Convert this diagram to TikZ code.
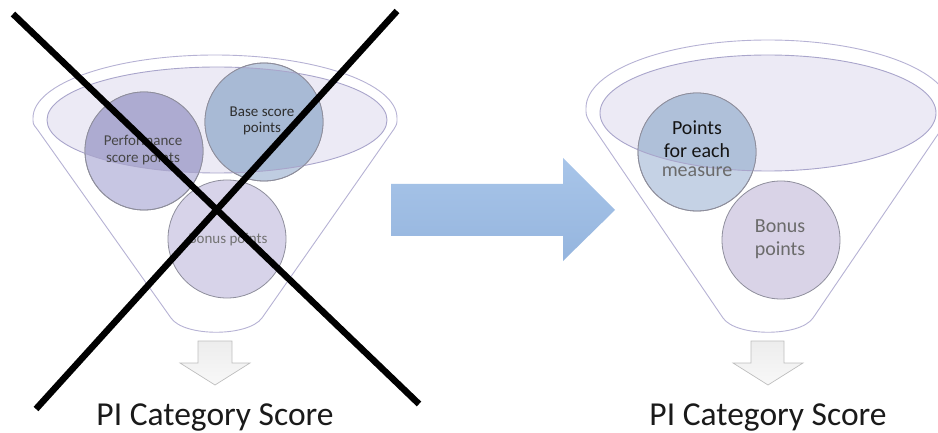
\documentclass[tikz,border=0pt]{standalone}
\usepackage{fontspec}
\setmainfont{Carlito}
\begin{document}
\begin{tikzpicture}[x=1pt,y=-1pt,
  funnel/.style={draw=funline,fill=white,line width=0.9pt},
  topell/.style={draw=ellline,line width=0.9pt},
  circ/.style={circle,minimum size=118pt,inner sep=0pt,draw=circline,line width=0.8pt},
  circtxt/.style={align=center,inner sep=0pt},
  smalltxt/.style={circtxt,font=\fontsize{15}{16.5}\selectfont},
  bigtxt/.style={circtxt,font=\fontsize{20}{22.5}\selectfont},
  title/.style={font=\fontsize{33.5}{38}\selectfont,text=titlecol,anchor=base,inner sep=0pt},
  downarrow/.style={draw=darrline,line width=0.7pt,top color=darrtop,bottom color=darrbot},
  cross/.style={draw=black,line width=6.5pt}
]
\definecolor{funline}{HTML}{B6B2D4}
\definecolor{ellline}{HTML}{A9A5CB}
\definecolor{ellfill}{HTML}{ECEAF5}
\definecolor{circline}{HTML}{8E8E9C}
\definecolor{perflo}{HTML}{C7C6E3}
\definecolor{perfhi}{HTML}{ADABD1}
\definecolor{baselo}{HTML}{BFCDE1}
\definecolor{basehi}{HTML}{A8BAD5}
\definecolor{bonuslo}{HTML}{D7D3E9}
\definecolor{ptslo}{HTML}{C5D2E5}
\definecolor{ptshi}{HTML}{AFC0D9}
\definecolor{bonus2}{HTML}{D9D3E7}
\definecolor{darrline}{HTML}{BEBEBE}
\definecolor{darrtop}{HTML}{EDEDED}
\definecolor{darrbot}{HTML}{F8F8F8}
\definecolor{bluetop}{HTML}{A8C5E9}
\definecolor{bluebot}{HTML}{95B5DE}
\definecolor{titlecol}{HTML}{1A1A1A}
\useasboundingbox (0,0) rectangle (938,433);
\clip (0,0) rectangle (938,433);

% ================= LEFT FUNNEL =================
\draw[funnel] (33,118) arc[start angle=180,end angle=360,x radius=182,y radius=63]
  .. controls (397,124) .. (394,129) -- (262,318)
  .. controls (248,337) and (184,337) .. (171,318)
  -- (37,129) .. controls (33,124) .. (33,118) -- cycle;
\fill[ellfill] (217,120) ellipse[x radius=170,y radius=53];

\node[circ,fill=perflo] (perf) at (144,151) {};
\node[circ,fill=baselo] (base) at (264,122) {};
\node[circ,fill=bonuslo] (bonusL) at (227,239) {};
\begin{scope}
  \clip (217,120) ellipse[x radius=170,y radius=53];
  \fill[perfhi] (perf.center) circle[radius=59];
  \fill[basehi] (base.center) circle[radius=59];
\end{scope}
\draw[topell] (217,120) ellipse[x radius=170,y radius=53];
\draw[circline,line width=0.8pt] (perf.center) circle[radius=59];
\draw[circline,line width=0.8pt] (base.center) circle[radius=59];

\node[smalltxt,text=black!72] (perftxt) at (143,150) {Performance\\score points};
\node[smalltxt,text=black!82] (basetxt) at (262,121) {Base score\\points};
\node[smalltxt,text=black!55] (bonusLtxt) at (228,240) {Bonus points};

\draw[downarrow] (198,341) -- (232,341) -- (232,363) -- (250,363) -- (215,385) -- (180,363) -- (198,363) -- cycle;
\node[title] (scoreL) at (215,425) {PI Category Score};

% ================= BLUE ARROW =================
\path[top color=bluetop,bottom color=bluebot] (391,184) -- (563,184) -- (563,158) -- (615,210) -- (563,261) -- (563,236) -- (391,236) -- cycle;

% ================= RIGHT FUNNEL =================
\draw[funnel] (586,108) arc[start angle=180,end angle=360,x radius=182,y radius=68]
  .. controls (950,115) .. (947,121) -- (813,318)
  .. controls (800,337) and (736,337) .. (723,318)
  -- (589,121) .. controls (586,115) .. (586,108) -- cycle;
\fill[ellfill] (768,113) ellipse[x radius=168,y radius=58];

\node[circ,fill=ptslo] (pts) at (697,152) {};
\node[circ,fill=bonus2] (bonusR) at (781,240) {};
\begin{scope}
  \clip (768,113) ellipse[x radius=168,y radius=58];
  \fill[ptshi] (pts.center) circle[radius=59];
\end{scope}
\draw[topell] (768,113) ellipse[x radius=168,y radius=58];
\draw[circline,line width=0.8pt] (pts.center) circle[radius=59];

\node[bigtxt,text=black!92] (ptstxt) at (697,139) {Points\\for each};
\node[bigtxt,text=black!58] (meastxt) at (697,172) {measure};
\node[bigtxt,text=black!58] (bonusRtxt) at (780,239) {Bonus\\points};

\draw[downarrow] (751,341) -- (784,341) -- (784,363) -- (803,363) -- (768,385) -- (733,363) -- (751,363) -- cycle;
\node[title] (scoreR) at (768,425) {PI Category Score};

% ================= CROSS =================
\coordinate (x1a) at (13,14);
\coordinate (x1b) at (419,404);
\coordinate (x2a) at (397,11);
\coordinate (x2b) at (36,409);
\draw[cross] (x1a) -- (x1b);
\draw[cross] (x2a) -- (x2b);
\end{tikzpicture}
\end{document}
